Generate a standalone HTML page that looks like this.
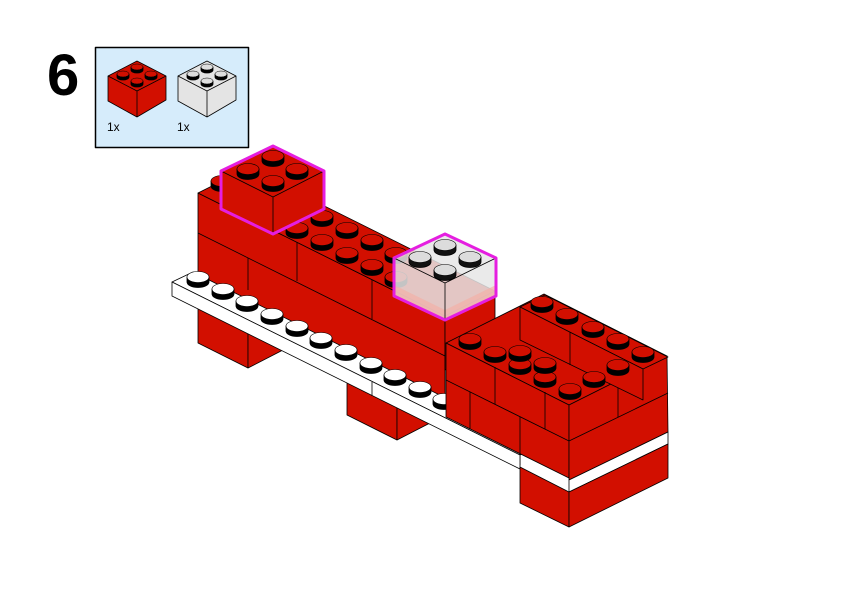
<!DOCTYPE html>
<html><head><meta charset="utf-8"><style>
html,body{margin:0;padding:0;background:#fff;width:842px;height:596px;overflow:hidden}
svg{display:block}
</style></head><body>
<svg width="842" height="596" viewBox="0 0 842 596" xmlns="http://www.w3.org/2000/svg">
<defs>
<g id="sr"><path d="M-11,0 v5 a11,5.5 0 0 0 22,0 v-5 z" fill="#000"/><ellipse cx="0" cy="0" rx="11" ry="5.5" fill="#d20f00" stroke="#000" stroke-width="0.6"/></g>
<g id="sw"><path d="M-11,0 v5 a11,5.5 0 0 0 22,0 v-5 z" fill="#000"/><ellipse cx="0" cy="0" rx="11" ry="5.5" fill="#fff" stroke="#000" stroke-width="0.6"/></g>
<g id="sg"><path d="M-11,0 v5 a11,5.5 0 0 0 22,0 v-5 z" fill="#111"/><ellipse cx="0" cy="0" rx="11" ry="5.5" fill="#dcdcdc" stroke="#000" stroke-width="0.6"/></g>
<g id="ssr"><path d="M-6,0 v3 a6,3 0 0 0 12,0 v-3 z" fill="#000"/><ellipse cx="0" cy="0" rx="6" ry="3" fill="#d20f00" stroke="#000" stroke-width="0.5"/></g>
<g id="ssg"><path d="M-6,0 v3 a6,3 0 0 0 12,0 v-3 z" fill="#000"/><ellipse cx="0" cy="0" rx="6" ry="3" fill="#dedede" stroke="#000" stroke-width="0.5"/></g>
</defs>
<g stroke="#000" stroke-width="0.8" stroke-linejoin="round">
<text x="47" y="95" font-family="Liberation Sans, sans-serif" font-weight="bold" font-size="58" fill="#000" stroke="none">6</text>
<rect x="95.5" y="47.5" width="153" height="100" fill="#d6ecfb" stroke="#000" stroke-width="1.5"/>
<polygon points="108,76 137,61 166,76 166,100 137,117 108,101" fill="#d20f00"/>
<polyline points="108,76 137,91 166,76" fill="none"/>
<line x1="137" y1="91" x2="137" y2="117"/>
<use href="#ssr" x="137" y="67"/><use href="#ssr" x="123" y="74"/><use href="#ssr" x="151" y="74"/><use href="#ssr" x="137" y="81"/>
<polygon points="178,76 207,61 236,76 236,100 207,117 178,101" fill="#e4e4e4"/>
<polyline points="178,76 207,91 236,76" fill="none"/>
<line x1="207" y1="91" x2="207" y2="117"/>
<use href="#ssg" x="207" y="67"/><use href="#ssg" x="193" y="74"/><use href="#ssg" x="221" y="74"/><use href="#ssg" x="207" y="81"/>
<text x="107" y="131" font-family="Liberation Sans, sans-serif" font-size="12" fill="#000" stroke="none">1x</text>
<text x="177" y="131" font-family="Liberation Sans, sans-serif" font-size="12" fill="#000" stroke="none">1x</text>

<polygon points="198,193 445,316 445,423 198,300" fill="#d20f00"/>
<polygon points="198,193 248,168 495,291 445,316" fill="#d20f00"/>
<polygon points="445,316 495,291 495,345 445,370" fill="#d20f00"/>
<line x1="198" y1="233" x2="445" y2="356"/>
<line x1="297" y1="242" x2="297" y2="281"/>
<line x1="372" y1="280" x2="372" y2="319"/>
<line x1="248" y1="258" x2="248" y2="290"/>
<use href="#sr" x="222" y="181"/>
<use href="#sr" x="297" y="228"/><use href="#sr" x="322" y="240"/><use href="#sr" x="347" y="253"/><use href="#sr" x="372" y="265"/><use href="#sr" x="396" y="277"/>
<use href="#sr" x="322" y="216"/><use href="#sr" x="347" y="228"/><use href="#sr" x="372" y="240"/><use href="#sr" x="396" y="253"/>

<polygon points="198,290 248,315 248,368 198,343" fill="#d20f00"/>
<polygon points="248,315 283,322 283,350 248,368" fill="#d20f00"/>
<polygon points="347,365 397,390 397,440 347,415" fill="#d20f00"/>
<polygon points="397,390 432,397 432,422 397,440" fill="#d20f00"/>
<polygon points="445,400 520,437 520,465 445,428" fill="#d20f00"/>

<polygon points="172,282 193,272 540,445 520,455" fill="#fff"/>
<polygon points="172,282 520,455 520,469 172,296" fill="#fff"/>
<line x1="372" y1="382" x2="372" y2="396"/>
<use href="#sw" x="198" y="277"/><use href="#sw" x="223" y="289"/><use href="#sw" x="247" y="301"/><use href="#sw" x="272" y="314"/><use href="#sw" x="297" y="326"/><use href="#sw" x="321" y="338"/><use href="#sw" x="346" y="350"/><use href="#sw" x="371" y="363"/><use href="#sw" x="395" y="375"/><use href="#sw" x="420" y="387"/><use href="#sw" x="444" y="399"/>

<polygon points="446,343 544,294 667,356 569,405" fill="#d20f00"/>
<polygon points="446,343 569,405 569,478 446,417" fill="#d20f00"/>
<polygon points="569,405 667,356 668,432 569,480" fill="#d20f00"/>
<polygon points="569,480 668,432 668,444 569,492" fill="#fff"/>
<polygon points="520,467 569,492 569,527 520,503" fill="#d20f00"/>
<polygon points="569,492 668,444 668,478 569,527" fill="#d20f00"/>
<line x1="446" y1="380" x2="569" y2="441"/>
<line x1="569" y1="441" x2="668" y2="393"/>
<line x1="470" y1="392" x2="470" y2="429"/>
<line x1="520" y1="417" x2="520" y2="455"/>
<line x1="495" y1="367" x2="495" y2="404"/>
<line x1="545" y1="392" x2="545" y2="429"/>
<line x1="618" y1="381" x2="618" y2="417"/>
<polygon points="520,307 545,295 668,357 643,369" fill="#d20f00"/>
<polygon points="520,307 643,369 643,400 520,340" fill="#d20f00"/>
<line x1="570" y1="332" x2="570" y2="365"/>
<use href="#sr" x="542" y="302"/><use href="#sr" x="567" y="314"/><use href="#sr" x="593" y="327"/><use href="#sr" x="618" y="339"/><use href="#sr" x="643" y="352"/>
<use href="#sr" x="470" y="339"/><use href="#sr" x="495" y="352"/><use href="#sr" x="520" y="364"/><use href="#sr" x="545" y="377"/><use href="#sr" x="570" y="389"/>
<use href="#sr" x="520" y="351"/><use href="#sr" x="545" y="363"/><use href="#sr" x="594" y="377"/><use href="#sr" x="618" y="365"/>

<polygon points="273,146 324,171 324,209 273,234 221,209 221,171" fill="#d20f00" stroke="none"/>
<polyline points="221,171 273,197 324,171" fill="none"/>
<line x1="273" y1="197" x2="273" y2="234"/>
<use href="#sr" x="273" y="156"/><use href="#sr" x="248" y="169"/><use href="#sr" x="297" y="169"/><use href="#sr" x="273" y="181"/>
<polygon points="273,146 324,171 324,209 273,234 221,209 221,171" fill="none" stroke="#e51ee0" stroke-width="3"/>

<polygon points="445,234 496,258 496,296 445,320 394,296 394,258" fill="#e6e6e6" fill-opacity="0.85" stroke="none"/>
<polygon points="394,285 445,310 496,285 496,296 445,320 394,296" fill="#f2b0a8" fill-opacity="0.7" stroke="none"/>
<polyline points="394,258 445,283 496,258" fill="none"/>
<line x1="445" y1="283" x2="445" y2="320"/>
<use href="#sg" x="445" y="245"/><use href="#sg" x="420" y="257"/><use href="#sg" x="470" y="257"/><use href="#sg" x="445" y="270"/>
<polygon points="445,234 496,258 496,296 445,320 394,296 394,258" fill="none" stroke="#e51ee0" stroke-width="3"/>
</g>
</svg>
</body></html>
